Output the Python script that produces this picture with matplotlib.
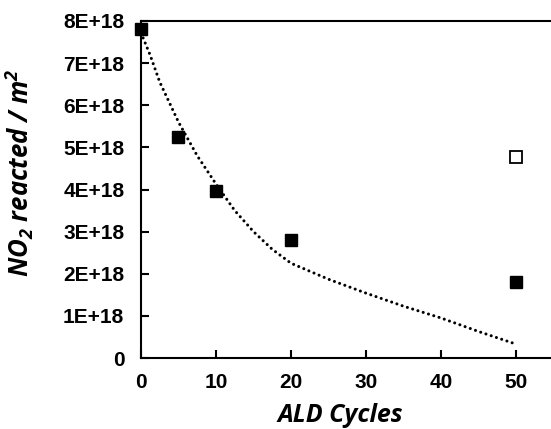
import matplotlib
matplotlib.use("Agg")
import matplotlib.pyplot as plt
from matplotlib.ticker import FuncFormatter

# measured points (filled) and the open point at 50 cycles
cycles = [0, 5, 10, 20, 50]
no2_reacted = [7.80e18, 5.25e18, 3.97e18, 2.80e18, 1.81e18]
open_cycles = [50]
open_no2 = [4.77e18]

# model curve (dotted)
model_cycles = [0, 1.2, 2.5, 5, 7.5, 10, 12.5, 15, 17.5, 20, 25, 30, 35, 40, 45, 50]
model_no2 = [7.72e18, 7.2e18, 6.55e18, 5.6e18, 4.8e18, 4.13e18, 3.5e18, 3.0e18,
             2.58e18, 2.25e18, 1.87e18, 1.54e18, 1.23e18, 0.95e18, 0.63e18, 0.33e18]

y_ticks = [0, 1e18, 2e18, 3e18, 4e18, 5e18, 6e18, 7e18, 8e18]
x_ticks = [0, 10, 20, 30, 40, 50]

plt.rcParams['font.family'] = ['Liberation Sans', 'DejaVu Sans']

fig = plt.figure(figsize=(5.51, 4.29), dpi=100)
ax = fig.add_axes([141 / 551, 1 - 358 / 429, 1 - 141 / 551, (358 - 21) / 429])

ax.plot(model_cycles, model_no2, color="black", linestyle=(0, (0.01, 1.8)),
        linewidth=2.2, dash_capstyle="round")
ax.plot(cycles, no2_reacted, linestyle="none", marker="s", markersize=8.5,
        color="black", clip_on=False, zorder=3)
ax.plot(open_cycles, open_no2, linestyle="none", marker="s", markersize=8.5,
        markerfacecolor="white", markeredgecolor="black", markeredgewidth=1.3, zorder=3)

ax.set_xlim(0, 54.67)
ax.set_ylim(0, 8e18)
ax.set_xticks(x_ticks)
ax.set_yticks(y_ticks)

def _fmt(v, pos):
    if v == 0:
        return "0"
    return f"{v / 1e18:.0f}E+18"

ax.yaxis.set_major_formatter(FuncFormatter(_fmt))
ax.yaxis.get_offset_text().set_visible(False)

ax.spines["right"].set_visible(False)
for side in ("left", "bottom", "top"):
    ax.spines[side].set_linewidth(1.5)

ax.tick_params(direction="in", length=6, width=1.5, labelsize=15, pad=11)
ax.tick_params(axis="y", pad=12)
for lbl in ax.get_xticklabels() + ax.get_yticklabels():
    lbl.set_fontweight("bold")

label_family = ["Open Sans", "Lato", "DejaVu Sans"]
ax.set_xlabel("ALD Cycles", family=label_family, fontsize=18,
              fontweight="bold", fontstyle="italic")
ax.xaxis.set_label_coords(0.485, -0.135)
ax.set_ylabel(r"NO$_\mathregular{2}$ reacted / m$^\mathregular{2}$", family=label_family,
              fontsize=18.5, fontweight="bold", fontstyle="italic")
ax.yaxis.set_label_coords(-0.256, 0.55)

fig.savefig("out.png", dpi=100)
